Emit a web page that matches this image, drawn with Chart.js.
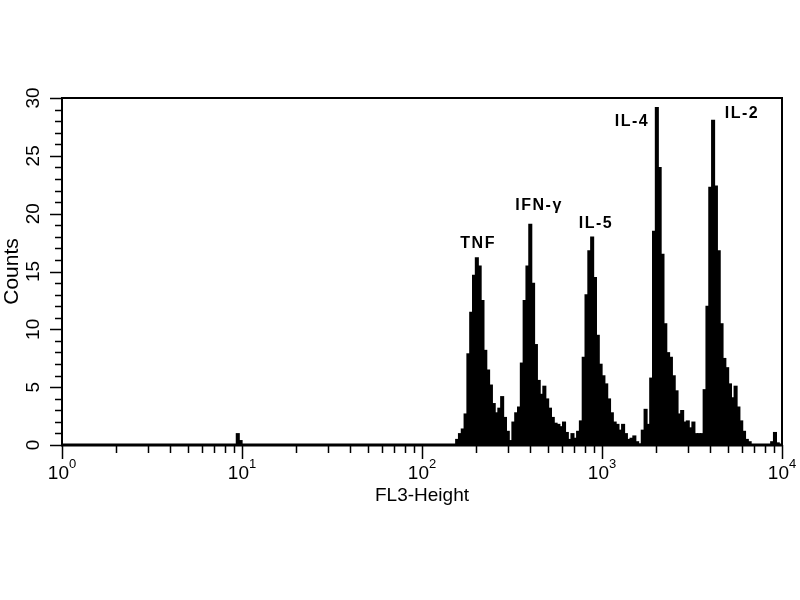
<!DOCTYPE html>
<html>
<head>
<meta charset="utf-8">
<script src="https://cdn.jsdelivr.net/npm/chart.js@4.4.0/dist/chart.umd.min.js"></script>
<style>
  html, body { margin: 0; padding: 0; background: #fff; }
  #wrap { width: 800px; height: 600px; }
</style>
</head>
<body>
<div id="wrap"><canvas id="hist"></canvas></div>
<script>
// FL3 histogram: 256 log channels spread over 4 decades
const CHANNELS = 256;
const DECADES = 4;

// counts, one value per channel, each run starts at a channel
const blip10Start = 62;
const blip10Counts = [1.0, 0.4];
const tnfStart = 140;
const tnfCounts = [0.5, 1.0, 1.4, 2.7, 7.9, 11.5, 14.7, 16.2, 15.5, 12.5, 8.2, 6.5, 5.2, 3.6, 2.8, 3.2, 4.2, 2.4, 1.2, 0.4];
const ifnStart = 160;
const ifnCounts = [2.0, 2.8, 3.3, 7.1, 12.5, 15.5, 19.1, 14.0, 8.7, 5.6, 4.4, 5.1, 4.0, 3.2, 2.4, 1.9, 1.8, 1.6, 2.0, 1.1, 0.5, 1.0, 0.6];
const il5Start = 183;
const il5Counts = [1.2, 2.1, 7.6, 13.0, 16.8, 18.0, 14.5, 9.5, 7.0, 6.0, 5.3, 4.0, 2.8, 2.0, 1.8, 1.3, 1.8, 1.0, 0.5, 0.6, 0.8, 0.3, 0.1, 1.3, 3.1, 1.8];
const il4Start = 209;
const il4Counts = [5.8, 18.5, 29.2, 24.0, 16.5, 10.5, 8.0, 7.6, 6.0, 4.7, 2.7, 3.0, 2.0, 2.1, 1.5, 2.0, 1.0, 1.0, 1.0];
const il2Start = 228;
const il2Counts = [4.8, 12.0, 22.3, 28.1, 22.4, 16.8, 10.5, 7.5, 6.7, 5.3, 4.1, 5.1, 3.3, 2.1, 1.2, 0.5, 0.3];
const blip10kStart = 252;
const blip10kCounts = [0.3, 1.1, 0.2];

// peak labels (x in FL3 units, y = count at bottom of the text)
const peakLabels = ['TNF', 'IFN-γ', 'IL-5', 'IL-4', 'IL-2'];
const peakLabelX = [205, 447, 926, 1468, 5995];
const peakLabelY = [17.0, 20.3, 18.8, 27.6, 28.3];

// axes
const xExponents = [0, 1, 2, 3, 4];
const yTicks = [0, 5, 10, 15, 20, 25, 30];

const FONT = 'Liberation Sans';

// fill all channels (zero where nothing was read)
const counts = new Array(CHANNELS).fill(0);
function place(start, arr) {
    arr.forEach((c, i) => { counts[start + i] = c; });
}
place(blip10Start, blip10Counts);
place(tnfStart, tnfCounts);
place(ifnStart, ifnCounts);
place(il5Start, il5Counts);
place(il4Start, il4Counts);
place(il2Start, il2Counts);
place(blip10kStart, blip10kCounts);

// one bar per channel, centred in the channel
const chCentre = ch => Math.pow(10, (ch + 0.5) * DECADES / CHANNELS);
const bars = counts.map((c, ch) => ({ x: chCentre(ch), y: c }));

const frameAndTicks = {
    id: 'frameAndTicks',
    afterDatasetsDraw(chart) {
        const { ctx, chartArea: a, scales: { x, y } } = chart;
        ctx.save();
        ctx.strokeStyle = '#000';
        ctx.fillStyle = '#000';

        // frame
        ctx.lineWidth = 2;
        ctx.strokeRect(a.left, a.top, a.right - a.left, a.bottom - a.top);
        ctx.lineWidth = 3;
        ctx.beginPath();
        ctx.moveTo(a.left - 1, a.bottom);
        ctx.lineTo(a.right + 1, a.bottom);
        ctx.stroke();

        // x ticks, log minor ticks
        ctx.lineWidth = 1.5;
        ctx.beginPath();
        for (let d = 0; d <= DECADES; d++) {
            for (let m = 1; m < 10; m++) {
                if (d === DECADES && m > 1) break;
                const px = Math.round(x.getPixelForValue(m * Math.pow(10, d))) + 0.5;
                const len = m === 1 ? 14 : 8;
                ctx.moveTo(px, a.bottom);
                ctx.lineTo(px, a.bottom + len);
            }
        }
        // y ticks every count
        for (let v = 0; v <= 30; v++) {
            const py = Math.round(y.getPixelForValue(v)) + 0.5;
            const len = v % 5 === 0 ? 12 : 7;
            ctx.moveTo(a.left, py);
            ctx.lineTo(a.left - len, py);
        }
        ctx.stroke();

        // x labels: 10 with raised exponent
        ctx.textBaseline = 'alphabetic';
        ctx.textAlign = 'left';
        xExponents.forEach(e => {
            const px = x.getPixelForValue(Math.pow(10, e));
            ctx.font = '19px ' + FONT;
            const wBase = ctx.measureText('10').width;
            ctx.font = '13px ' + FONT;
            const wSup = ctx.measureText(String(e)).width;
            const left = px - (wBase + wSup) / 2;
            ctx.font = '19px ' + FONT;
            ctx.fillText('10', left, 479);
            ctx.font = '13px ' + FONT;
            ctx.fillText(String(e), left + wBase, 468);
        });

        // y labels, rotated
        ctx.font = '19px ' + FONT;
        ctx.textAlign = 'center';
        yTicks.forEach(v => {
            const py = y.getPixelForValue(v);
            ctx.save();
            ctx.translate(39, py);
            ctx.rotate(-Math.PI / 2);
            ctx.fillText(String(v), 0, 0);
            ctx.restore();
        });

        // peak labels
        ctx.font = 'bold 16px ' + FONT;
        ctx.letterSpacing = '1.5px';
        peakLabels.forEach((t, i) => {
            ctx.fillText(t, x.getPixelForValue(peakLabelX[i]), y.getPixelForValue(peakLabelY[i]));
        });
        ctx.restore();
    }
};

new Chart(document.getElementById('hist'), {
    type: 'bar',
    data: {
        datasets: [{
            data: bars,
            backgroundColor: '#000',
            borderWidth: 0,
            barThickness: 3.4
        }]
    },
    options: {
        responsive: true,
        maintainAspectRatio: false,
        animation: false,
        layout: { padding: { left: 0, top: 98, right: 18, bottom: 93 } },
        plugins: { legend: { display: false }, tooltip: { enabled: false } },
        scales: {
            x: {
                type: 'logarithmic',
                min: 1,
                max: 10000,
                offset: false,
                grid: { display: false },
                border: { display: false },
                ticks: { display: false },
                title: { display: true, text: 'FL3-Height', color: '#000', padding: 0, font: { family: FONT, size: 19 } },
                afterFit(s) { s.height = 62; }
            },
            y: {
                min: 0,
                max: 30,
                grid: { display: false },
                border: { display: false },
                ticks: { display: false },
                title: { display: true, text: 'Counts', color: '#000', padding: 0, font: { family: FONT, size: 21 } },
                afterFit(s) { s.width = 62; }
            }
        }
    },
    plugins: [frameAndTicks]
});
</script>
</body>
</html>
